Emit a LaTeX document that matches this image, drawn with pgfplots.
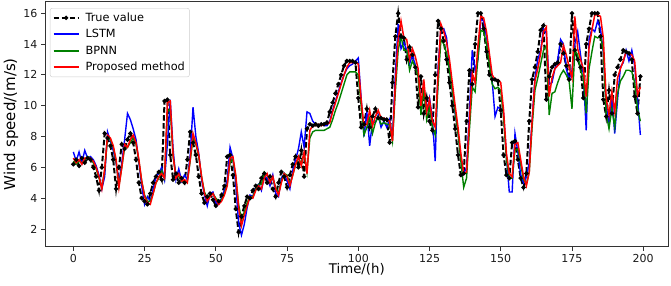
\documentclass[border=0pt]{standalone}
\usepackage{pgfplots}
\usepackage{pgfplotstable}
\usepackage{fontspec}
\setmainfont{DejaVu Sans}
\pgfplotsset{compat=1.18}
\pgfplotstableread{
x T L B P
0 6.2 7.0 6.4 6.6
1 6.5 6.4 6.2 6.3
2 6.1 7.0 6.4 6.5
3 6.6 6.3 6.3 6.2
4 6.3 7.1 6.5 6.6
5 6.6 6.6 6.7 6.6
6 6.5 6.7 6.6 6.6
7 6.0 6.5 6.3 6.4
8 5.4 6.1 5.9 6.0
9 4.5 5.5 5.3 5.4
10 6.0 4.6 4.7 4.6
11 8.2 5.4 5.8 5.9
12 7.9 8.3 7.9 8.1
13 7.4 7.7 7.8 7.9
14 6.5 7.1 7.3 7.4
15 4.6 6.3 6.4 6.5
16 6.0 5.0 4.8 4.7
17 7.5 6.3 6.0 6.0
18 7.2 7.8 7.3 7.5
19 7.8 9.5 7.3 7.3
20 8.2 9.1 7.6 7.8
21 7.6 8.5 7.9 8.1
22 6.5 7.8 7.5 7.6
23 5.0 6.3 6.4 6.5
24 4.0 4.8 5.1 5.1
25 3.8 3.6 4.2 4.1
26 3.6 4.1 3.8 3.7
27 4.3 3.8 3.8 3.6
28 5.0 4.6 4.3 4.3
29 5.4 5.4 5.0 5.0
30 5.7 5.6 5.3 5.4
31 5.2 6.0 5.8 5.6
32 10.3 5.2 5.3 5.3
33 10.4 7.5 9.6 10.2
34 6.8 10.4 9.8 10.3
35 5.2 7.2 6.7 6.8
36 5.6 5.2 5.5 5.3
37 5.0 5.9 5.4 5.6
38 5.3 5.1 5.1 5.1
39 5.0 5.5 5.0 5.2
40 6.5 5.2 5.1 5.0
41 8.3 6.8 6.4 6.5
42 7.6 9.9 7.9 8.2
43 6.8 8.0 7.5 7.6
44 5.4 6.9 6.7 6.8
45 4.3 5.2 5.4 5.4
46 3.7 4.2 4.4 4.3
47 4.1 3.5 4.0 3.8
48 4.3 4.3 4.2 4.1
49 3.9 4.4 4.3 4.3
50 3.5 3.7 4.0 3.9
51 3.8 3.6 3.8 3.6
52 4.2 4.0 3.9 3.8
53 4.8 4.5 4.3 4.2
54 6.7 5.2 4.9 4.8
55 6.8 7.3 6.3 6.6
56 5.5 6.6 6.5 6.7
57 3.3 4.9 5.4 5.5
58 1.8 2.4 3.6 3.4
59 2.8 1.6 2.6 2.2
60 3.5 2.3 3.1 2.9
61 4.1 3.4 3.7 3.5
62 4.0 4.2 4.1 4.1
63 4.5 4.1 4.1 4.0
64 4.8 4.7 4.6 4.5
65 4.6 4.9 4.9 4.8
66 5.3 4.5 4.9 4.6
67 5.6 5.4 5.7 5.3
68 5.0 5.3 5.5 5.6
69 5.4 4.8 5.1 5.0
70 4.6 5.5 5.3 5.4
71 4.1 4.3 4.7 4.6
72 5.0 4.1 4.3 4.2
73 5.7 5.3 5.1 5.0
74 5.4 5.6 5.6 5.6
75 4.7 5.1 5.5 5.4
76 5.5 4.6 4.9 4.8
77 6.2 5.8 5.5 5.5
78 6.7 6.5 6.2 6.2
79 6.0 7.2 6.6 6.7
80 7.1 8.3 6.2 6.1
81 5.4 7.3 6.9 7.0
82 8.5 9.6 5.7 5.6
83 8.8 9.5 7.9 8.4
84 8.7 9.0 8.3 8.7
85 8.8 8.8 8.4 8.7
86 8.7 8.7 8.4 8.8
87 8.8 8.8 8.4 8.7
88 8.8 8.7 8.4 8.8
89 8.9 8.7 8.5 8.8
90 9.6 9.0 8.6 8.9
91 10.2 9.7 9.1 9.6
92 10.8 10.3 9.7 10.2
93 11.4 10.9 10.2 10.8
94 12.0 11.5 10.8 11.4
95 12.6 12.0 11.4 12.0
96 12.9 12.4 12.0 12.5
97 12.9 12.6 12.2 12.8
98 12.9 12.7 12.2 12.8
99 12.8 12.9 12.2 12.8
100 10.5 13.1 12.0 12.7
101 8.6 10.5 10.0 10.4
102 8.8 8.0 8.1 8.7
103 9.8 9.6 8.6 8.8
104 8.6 7.4 9.2 9.7
105 9.3 9.0 8.2 8.7
106 9.8 8.9 8.9 9.3
107 9.2 9.4 9.3 9.7
108 9.2 8.6 8.8 9.2
109 9.1 9.0 8.9 9.2
110 9.1 8.6 8.8 9.1
111 7.6 9.1 8.8 9.0
112 11.5 7.9 7.7 7.7
113 14.5 12.0 10.9 11.4
114 16.0 15.3 13.6 14.3
115 14.5 13.7 14.5 15.5
116 14.4 14.1 13.6 14.4
117 13.0 13.6 13.6 14.3
118 13.8 12.7 12.3 13.0
119 13.3 13.3 12.9 13.7
120 12.5 12.6 12.5 13.2
121 9.9 12.2 11.9 12.4
122 11.9 10.0 9.4 10.0
123 9.5 11.2 11.1 11.7
124 10.5 9.6 9.1 9.6
125 9.0 10.5 9.9 10.4
126 8.4 9.2 8.6 9.0
127 12.0 6.4 8.1 8.6
128 15.5 12.5 11.3 12.0
129 15.0 15.0 14.3 15.3
130 14.2 15.0 14.0 14.8
131 13.0 14.4 13.4 14.1
132 11.5 12.5 12.3 13.0
133 10.0 11.0 11.0 11.5
134 8.5 9.5 9.6 10.0
135 6.8 8.3 8.2 8.6
136 5.5 6.6 6.4 6.9
137 5.6 5.6 4.7 5.6
138 9.0 6.0 5.3 5.7
139 12.3 9.5 8.4 9.0
140 11.4 13.6 11.2 12.1
141 14.0 12.3 10.9 11.5
142 16.0 13.0 13.1 13.9
143 16.0 15.6 14.9 15.8
144 15.0 15.5 14.8 15.7
145 13.5 14.5 14.0 14.8
146 12.0 13.2 12.7 13.4
147 11.7 11.6 11.4 12.0
148 11.7 9.3 11.1 11.7
149 11.6 9.9 11.2 11.7
150 9.7 9.8 11.0 11.5
151 6.8 9.5 9.2 9.7
152 5.5 6.7 6.5 6.9
153 5.3 4.4 5.3 5.6
154 7.6 4.4 5.3 5.4
155 7.7 8.2 7.1 7.5
156 6.5 7.0 7.2 7.6
157 5.3 5.5 6.2 6.5
158 4.7 5.0 5.2 5.4
159 5.6 5.4 4.9 4.8
160 9.0 6.3 5.7 5.7
161 11.7 9.0 8.6 9.0
162 12.5 11.8 11.0 11.6
163 13.5 13.0 11.8 12.4
164 14.9 13.6 12.7 13.4
165 15.2 15.0 13.6 14.8
166 10.4 14.7 13.9 15.1
167 11.9 11.4 9.4 10.6
168 12.5 11.5 10.8 11.8
169 12.7 12.4 10.9 12.4
170 12.8 13.0 11.5 12.6
171 14.0 14.3 12.0 12.8
172 13.4 14.0 12.3 13.9
173 12.6 12.4 12.0 13.3
174 11.7 11.7 11.6 12.5
175 16.0 12.3 9.8 11.8
176 13.6 14.0 13.6 15.8
177 13.0 14.8 13.3 13.7
178 12.5 13.3 12.3 13.0
179 10.5 12.0 11.8 12.4
180 14.0 8.4 9.5 10.6
181 15.0 14.3 12.4 13.8
182 16.0 15.0 13.5 14.9
183 16.0 14.8 14.5 15.9
184 16.0 15.5 14.4 15.9
185 14.5 15.0 14.5 15.8
186 10.4 13.5 13.6 14.4
187 9.3 10.0 9.5 10.5
188 11.0 8.9 8.5 9.4
189 9.5 10.6 9.8 10.9
190 12.0 8.2 8.6 9.6
191 12.5 10.4 10.8 11.8
192 13.0 12.5 11.6 12.4
193 13.6 12.8 11.9 12.9
194 13.5 13.6 12.3 13.5
195 13.4 12.9 12.3 13.4
196 13.0 13.6 12.2 13.3
197 10.6 12.6 11.5 12.9
198 9.5 10.5 9.8 10.7
199 11.9 8.1 9.0 11.2
}\datatable
\definecolor{mplgreen}{RGB}{0,128,0}
\begin{document}
\begin{tikzpicture}
\useasboundingbox (-45pt,-38.3pt) rectangle (626pt,246.7pt);
\begin{axis}[
  at={(0pt,0pt)}, anchor=south west,
  width=623.7pt, height=245pt, scale only axis,
  xmin=-9.95, xmax=208.95, ymin=0.85, ymax=16.75,
  xtick={0,25,...,200}, ytick={2,4,...,16},
  tick pos=left, tick align=outside,
  major tick length=4pt,
  every tick/.style={black!80, line width=0.8pt},
  axis line style={black!80, line width=0.8pt},
  /pgf/number format/assume math mode=true,
  ticklabel style={font=\fontsize{11}{13}\selectfont, black!90},
  xlabel={Time/(h)}, ylabel={Wind speed/(m/s)},
  xlabel style={font=\fontsize{13.3}{15}\selectfont, at={(axis description cs:0.5,-0.111)}, anchor=base},
  ylabel style={font=\fontsize{15}{17}\selectfont, at={(axis description cs:-0.048,0.5)}, anchor=base},
  legend style={at={(0.008,0.974)}, anchor=north west,
    font=\fontsize{11.3}{13}\selectfont, draw=black!20, fill=white,
    rounded corners=2pt, row sep=2.6pt, inner sep=2.5pt,
    /tikz/every odd column/.append style={column sep=4pt}},
  legend cell align=left,
  legend image code/.code={\draw[mark repeat=2,mark phase=2,#1,line width=1.9pt] plot coordinates {(0pt,0pt) (12.5pt,0pt) (25pt,0pt)};},
  clip=true,
]
\addplot[black, line width=2pt, dash pattern=on 5.5pt off 2.5pt, mark=*, mark size=1pt, mark options={solid}]
  table[x=x,y=T] {\datatable};
\addlegendentry{True value}
\addplot[blue, line width=1.4pt] table[x=x,y=L] {\datatable};
\addlegendentry{LSTM}
\addplot[mplgreen, line width=1.4pt] table[x=x,y=B] {\datatable};
\addlegendentry{BPNN}
\addplot[red, line width=1.5pt] table[x=x,y=P] {\datatable};
\addlegendentry{Proposed method}
\end{axis}
\end{tikzpicture}
\end{document}
